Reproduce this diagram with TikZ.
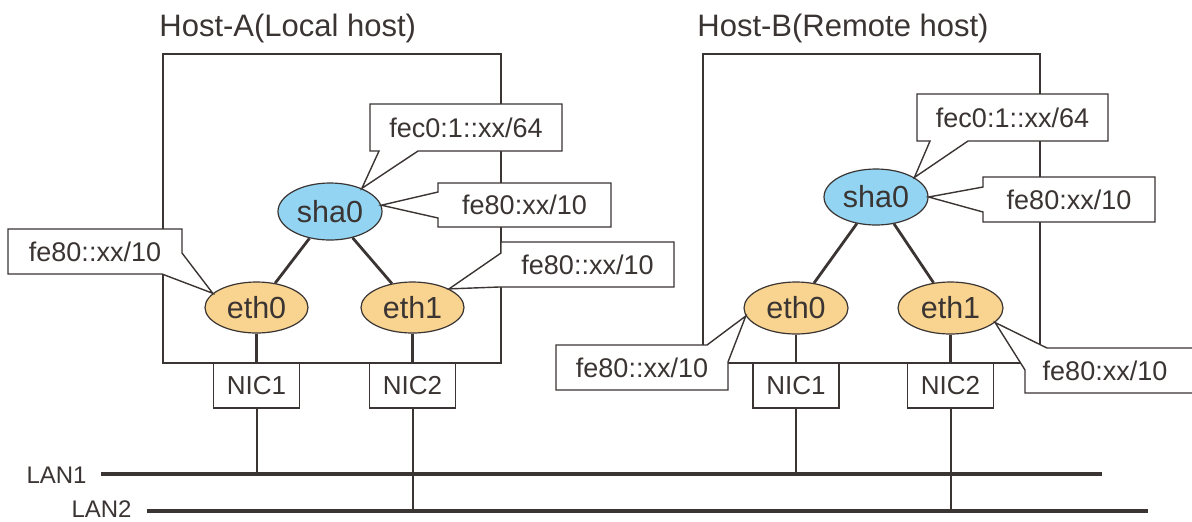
\documentclass[tikz,border=0pt]{standalone}
\usepackage{fontspec}
\setmainfont{Liberation Sans}
\usetikzlibrary{shapes.geometric}
\definecolor{ink}{RGB}{58,52,50}
\definecolor{shafill}{RGB}{146,212,242}
\definecolor{ethfill}{RGB}{248,212,144}
\begin{document}
\begin{tikzpicture}[x=0.5pt,y=-0.5pt,
  hostbox/.style={draw=ink, line width=0.75pt, inner sep=0pt, anchor=north west},
  ifc/.style={ellipse, draw=ink, line width=0.6pt, inner sep=0pt, text=ink, font=\fontsize{15.25}{16}\selectfont},
  shaif/.style={ifc, fill=shafill, minimum width=52pt, minimum height=28.5pt},
  ethif/.style={ifc, fill=ethfill, minimum width=51.5pt, minimum height=25.5pt},
  nicbox/.style={draw=ink, line width=0.75pt, fill=white, minimum width=43pt, minimum height=22.5pt, inner sep=0pt, text=ink, font=\fontsize{13}{14}\selectfont},
  link/.style={draw=ink, line width=1.4pt},
  drop/.style={draw=ink, line width=1pt},
  lan/.style={draw=ink, line width=2pt},
  callout/.style={draw=ink, line width=0.7pt, fill=white, line join=miter},
  ctext/.style={inner sep=0pt, text=ink, font=\fontsize{13.5}{14}\selectfont},
  title/.style={anchor=base west, inner sep=0pt, text=ink, font=\fontsize{15.5}{17}\selectfont},
  lanlabel/.style={anchor=east, inner sep=0pt, text=ink, font=\fontsize{12}{13}\selectfont}
]
\useasboundingbox (0,0) rectangle (1192,521);

% titles
\node[title] (tA) at (159,36) {Host-A(Local host)};
\node[title] (tB) at (697,36) {Host-B(Remote host)};

% host boxes
\node[hostbox, minimum width=169pt, minimum height=154.5pt] (hostA) at (162,53) {};
\node[hostbox, minimum width=168.5pt, minimum height=154.5pt] (hostB) at (702,53) {};

% interfaces
\node[shaif] (shaA) at (330,211.5) {sha0};
\node[ethif] (ethA0) at (256.5,307.5) {eth0};
\node[ethif] (ethA1) at (412.5,307.5) {eth1};
\node[shaif, minimum height=28pt] (shaB) at (876,197) {sha0};
\node[ethif, minimum width=52pt, minimum height=26pt] (ethB0) at (796,308) {eth0};
\node[ethif, minimum width=52.5pt, minimum height=26pt] (ethB1) at (950.5,308) {eth1};

\draw[link] (shaA) -- (ethA0);
\draw[link] (shaA) -- (ethA1);
\draw[link] (shaB) -- (ethB0);
\draw[link] (shaB) -- (ethB1);

% NICs
\node[nicbox] (nicA1) at (256.5,385.5) {NIC1};
\node[nicbox] (nicA2) at (412.5,385.5) {NIC2};
\node[nicbox] (nicB1) at (796,385.5) {NIC1};
\node[nicbox] (nicB2) at (950.5,385.5) {NIC2};

\draw[link] (ethA0) -- (nicA1);
\draw[link] (ethA1) -- (nicA2);
\draw[link] (ethB0) -- (nicB1);
\draw[link] (ethB1) -- (nicB2);

% LANs
\coordinate (lan1w) at (101,474);
\coordinate (lan1e) at (1102,474);
\coordinate (lan2w) at (147,511);
\coordinate (lan2e) at (1148,511);
\draw[lan] (lan1w) -- (lan1e);
\draw[lan] (lan2w) -- (lan2e);
\node[lanlabel] (lab1) at (87,475) {LAN1};
\node[lanlabel] (lab2) at (132,509) {LAN2};

\draw[drop] (nicA1) -- (nicA1 |- lan1w);
\draw[drop] (nicA2) -- (nicA2 |- lan2w);
\draw[drop] (nicB1) -- (nicB1 |- lan1w);
\draw[drop] (nicB2) -- (nicB2 |- lan2w);

% callouts Host-A
\draw[callout] (370,104) -- (562,104) -- (562,151) -- (418,151) -- (shaA.36) -- (379,151) -- (370,151) -- cycle;
\node[ctext] (cA1) at (466,127.5) {fec0:1::xx/64};
\draw[callout] (438,183) -- (611,183) -- (611,227) -- (438,227) -- (438,218) -- (shaA.7) -- (438,192) -- cycle;
\node[ctext] (cA2) at (524.5,205) {fe80:xx/10};
\draw[callout] (8,229) -- (182,229) -- (182,253) -- (ethA0.162) -- (162,274) -- (8,274) -- cycle;
\node[ctext] (cA3) at (95,251.5) {fe80::xx/10};
\draw[callout] (501,242) -- (674,242) -- (674,287) -- (499,287) -- (ethA1.27) -- (501,253) -- cycle;
\node[ctext] (cA4) at (587.5,264.5) {fe80::xx/10};

% callouts Host-B
\draw[callout] (917,94) -- (1108,94) -- (1108,141) -- (968,141) -- (shaB.27) -- (930,141) -- (917,141) -- cycle;
\node[ctext] (cB1) at (1012.5,117.5) {fec0:1::xx/64};
\draw[callout] (983,177) -- (1155,177) -- (1155,222) -- (983,222) -- (983,212) -- (shaB.0) -- (983,187) -- cycle;
\node[ctext] (cB2) at (1069,199.5) {fe80:xx/10};
\draw[callout] (556,345) -- (707,345) -- (ethB0.189) -- (728,362) -- (728,390) -- (556,390) -- cycle;
\node[ctext] (cB3) at (642,367.5) {fe80::xx/10};
\draw[callout] (1047,348) -- (1198,348) -- (1198,393) -- (1025,393) -- (1025,370) -- (ethB1.-18) -- cycle;
\node[ctext] (cB4) at (1105,371) {fe80:xx/10};
\end{tikzpicture}
\end{document}
